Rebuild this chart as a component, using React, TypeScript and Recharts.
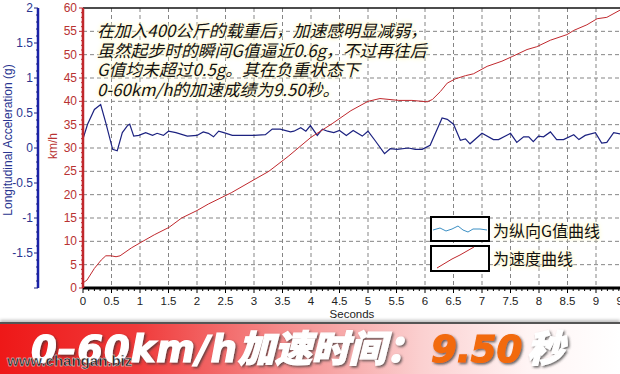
import React from "react";
import { CartesianGrid, ComposedChart, Line, ReferenceLine, XAxis, YAxis } from "recharts";

// speed curve (km/h)
const speedTime = [
  0, 0.07, 0.2, 0.32, 0.4, 0.49, 0.58, 0.65, 0.85, 1.02, 1.25, 1.51, 1.73, 2.0, 2.2, 2.6, 3.0, 3.26,
  3.6, 4.0, 4.37, 4.7, 5.0, 5.21, 5.54, 5.77, 6.04, 6.13, 6.27, 6.39, 6.53, 6.71, 6.85, 7.09, 7.35,
  7.53, 7.79, 7.96, 8.2, 8.49, 8.61, 8.84, 9.02, 9.19, 9.46, 9.5,
];
const speedKmh = [
  1.1, 1.7, 4.2, 6.0, 6.9, 6.9, 6.7, 6.9, 8.6, 9.8, 11.4, 13, 15, 16.6, 18, 20.4, 23.2, 25, 28.2,
  32.3, 35.2, 38, 40, 40.6, 40.2, 40.2, 39.9, 40.4, 42.1, 43.9, 44.8, 45.5, 45.9, 47.5, 48.6, 49.6,
  51.1, 51.7, 53.1, 54.3, 55.2, 56.4, 57.7, 58.0, 59.8, 60,
];

// longitudinal acceleration (g)
const gTime = [
  0, 0.08, 0.2, 0.31, 0.4, 0.52, 0.6, 0.69, 0.78, 0.82, 0.89, 0.98, 1.1, 1.22, 1.3, 1.41, 1.5, 1.63,
  1.83, 2.0, 2.11, 2.2, 2.29, 2.38, 2.47, 2.62, 3.0, 3.2, 3.32, 3.46, 3.64, 3.7, 3.82, 3.91, 3.99,
  4.11, 4.2, 4.29, 4.4, 4.5, 4.62, 4.74, 4.9, 5.0, 5.13, 5.29, 5.39, 5.51, 5.71, 5.83, 5.95, 6.09,
  6.3, 6.39, 6.5, 6.62, 6.71, 6.79, 7.0, 7.2, 7.29, 7.5, 7.61, 7.73, 7.82, 7.9, 7.99, 8.08, 8.2,
  8.31, 8.43, 8.61, 8.7, 8.81, 8.99, 9.1, 9.19, 9.31, 9.43, 9.6,
];
const gValue = [
  0.13, 0.34, 0.55, 0.62, 0.36, -0.02, -0.04, 0.22, 0.32, 0.34, 0.17, 0.18, 0.22, 0.18, 0.21, 0.18,
  0.24, 0.22, 0.17, 0.18, 0.23, 0.21, 0.16, 0.24, 0.22, 0.18, 0.18, 0.19, 0.27, 0.27, 0.23, 0.24,
  0.29, 0.24, 0.32, 0.18, 0.27, 0.24, 0.22, 0.25, 0.18, 0.25, 0.17, 0.24, 0.1, -0.08, -0.01, -0.02,
  0, -0.02, -0.02, 0.04, 0.43, 0.41, 0.34, 0.11, 0.13, 0.06, 0.21, 0.12, 0.12, 0.21, 0.08, 0.16,
  0.16, 0.09, 0.17, 0.16, 0.23, 0.12, 0.12, 0.19, 0.12, 0.18, 0.22, 0.07, 0.08, 0.22, 0.2, 0.2,
];

// axis ticks
const secondTicks = Array.from({ length: 101 }, (_, i) => i / 10);
const secondGrid = Array.from({ length: 19 }, (_, i) => (i + 1) / 2);
const speedTicks = Array.from({ length: 61 }, (_, i) => i);
const speedGrid = [5, 10, 15, 20, 25, 30, 35, 40, 45, 50, 55];
const gTicks = Array.from({ length: 41 }, (_, i) => (i - 20) / 10);

const noteLines = [
  "在加入400公斤的载重后，加速感明显减弱，",
  "虽然起步时的瞬间G值逼近0.6g，不过再往后",
  "G值均未超过0.5g。其在负重状态下",
  "0-60km/h的加速成绩为9.50秒。",
];

const speedData = speedTime.map((t, i) => ({ t, v: speedKmh[i] }));
const gData = gTime.map((t, i) => ({ t, g: gValue[i] }));

const NAVY = "#1c2280";
const RED = "#c0282d";
// axis ids: the speed axis sits next to the plot, the g axis outside it
const SPEED = "a";
const G = "b";

function SecondTick({ x, y, payload }: any) {
  const v = payload.value as number;
  const major = Math.round(v * 10) % 5 === 0;
  return (
    <g>
      <line x1={x} y1={y} x2={x} y2={y + (major ? 5 : 3)} stroke="#000" />
      {major && (
        <text x={x} y={y + 17} textAnchor="middle" fontSize={11.5} fill="#222" fontFamily="Liberation Sans">
          {String(v)}
        </text>
      )}
    </g>
  );
}

function SpeedTick({ x, y, payload }: any) {
  const v = payload.value as number;
  const major = v % 5 === 0;
  return (
    <g>
      <line x1={x - (major ? 4 : 2)} y1={y} x2={x} y2={y} stroke={RED} />
      {major && (
        <text x={x - 6} y={y + 4} textAnchor="end" fontSize={12} fill="#b83232" fontFamily="Liberation Sans">
          {String(v)}
        </text>
      )}
    </g>
  );
}

function GTick({ x, y, payload }: any) {
  const v = payload.value as number;
  const major = Math.round(v * 10) % 5 === 0;
  return (
    <g>
      <line x1={x - (major ? 4 : 2)} y1={y} x2={x} y2={y} stroke={NAVY} />
      {major && v > -2 && (
        <text x={x - 5} y={y + 4} textAnchor="end" fontSize={12} fill="#2a3590" fontFamily="Liberation Sans">
          {String(v)}
        </text>
      )}
    </g>
  );
}

const glow = "0 0 2px #fffbe0, 0 0 3px #fff6c8, 0 0 5px #fff6c8, 0 0 7px #fffae0";

export default function App() {
  return (
    <div
      style={{
        position: "absolute",
        left: 0,
        top: 0,
        width: 620,
        height: 374,
        overflow: "hidden",
        background: "#fff",
        fontFamily: "'Noto Sans CJK SC', sans-serif",
      }}
    >
      <ComposedChart width={653} height={322} margin={{ top: 8, right: 0, bottom: 0, left: 0 }}>
        <CartesianGrid
          yAxisId={SPEED}
          stroke="#858585"
          strokeDasharray="4 3"
          horizontalValues={speedGrid}
          verticalValues={secondGrid}
        />
        <XAxis
          type="number"
          dataKey="t"
          domain={[0, 10]}
          ticks={secondTicks}
          interval={0}
          tick={<SecondTick />}
          tickLine={false}
          tickSize={0}
          tickMargin={0}
          axisLine={{ stroke: "#000", strokeWidth: 3 }}
          height={34}
          allowDataOverflow
        />
        <YAxis
          yAxisId={SPEED}
          type="number"
          domain={[0, 60]}
          ticks={speedTicks}
          interval={0}
          tick={<SpeedTick />}
          tickLine={false}
          tickSize={0}
          tickMargin={0}
          axisLine={{ stroke: RED, strokeWidth: 2.5 }}
          width={45}
          allowDataOverflow
        />
        <YAxis
          yAxisId={G}
          type="number"
          domain={[-2, 2]}
          ticks={gTicks}
          interval={0}
          tick={<GTick />}
          tickLine={false}
          tickSize={0}
          tickMargin={0}
          axisLine={{ stroke: "#1a22a8", strokeWidth: 2.5 }}
          width={38}
          allowDataOverflow
        />
        <ReferenceLine yAxisId={SPEED} y={60} stroke="#111" strokeWidth={1.5} />
        <Line
          data={gData}
          yAxisId={G}
          dataKey="g"
          type="linear"
          stroke={NAVY}
          strokeWidth={1.2}
          dot={false}
          isAnimationActive={false}
        />
        <Line
          data={speedData}
          yAxisId={SPEED}
          dataKey="v"
          type="linear"
          stroke={RED}
          strokeWidth={1}
          dot={false}
          isAnimationActive={false}
        />
      </ComposedChart>

      {/* axis titles */}
      <svg width={620} height={322} style={{ position: "absolute", left: 0, top: 0, pointerEvents: "none" }}>
        <text
          transform="translate(12,140) rotate(-90)"
          textAnchor="middle"
          fontSize={12}
          fill="#2a3590"
          fontFamily="Liberation Sans"
        >
          Longitudinal Acceleration (g)
        </text>
        <text
          transform="translate(57,146) rotate(-90)"
          textAnchor="middle"
          fontSize={12}
          fill="#b83232"
          fontFamily="Liberation Sans"
        >
          km/h
        </text>
        <text x={352} y={318} textAnchor="middle" fontSize={11.5} fill="#222" fontFamily="Liberation Sans">
          Seconds
        </text>

        {/* legend boxes */}
        <rect x={431} y={217} width={58} height={24} fill="#fff" stroke="#000" strokeWidth={2} />
        <polyline
          points="433,230 440,228 446,231 452,229 458,226 463,230 468,232 473,229 480,229 487,230"
          fill="none"
          stroke="#3b8fc4"
          strokeWidth={1}
        />
        <rect x={431} y={246} width={58} height={25} fill="#fff" stroke="#000" strokeWidth={2} />
        <polyline points="437,268 452,259 460,255 474,247" fill="none" stroke={RED} strokeWidth={1} />
      </svg>

      <div style={{ position: "absolute", left: 493, top: 219, fontSize: 16, lineHeight: "22px", color: "#111", textShadow: glow }}>
        为纵向G值曲线
      </div>
      <div style={{ position: "absolute", left: 493, top: 247, fontSize: 16, lineHeight: "22px", color: "#111", textShadow: glow }}>
        为速度曲线
      </div>

      {/* annotation */}
      <div
        style={{
          position: "absolute",
          left: 97,
          top: 21,
          fontSize: 16.8,
          lineHeight: "19.7px",
          fontStyle: "italic",
          color: "#111",
          textShadow: glow,
          whiteSpace: "nowrap",
        }}
      >
        {noteLines.map((l) => (
          <div key={l}>{l}</div>
        ))}
      </div>

      {/* bottom banner */}
      <div
        style={{
          position: "absolute",
          left: 0,
          top: 322,
          width: 620,
          height: 52,
          borderTop: "2px solid #555",
          boxShadow: "0 -2px 3px rgba(0,0,0,0.25)",
          background:
            "linear-gradient(to right, #ee1818 0%, #f03a3a 22%, #f48a8a 45%, #fbd0d0 68%, #fff4f4 85%, #ffffff 100%)",
        }}
      >
        <svg width={620} height={52} style={{ position: "absolute", left: 0, top: -2 }}>
          <defs>
            <filter id="sh" x="-10%" y="-20%" width="120%" height="150%">
              <feDropShadow dx="1.5" dy="1.5" stdDeviation="1.2" floodColor="#333" floodOpacity="0.75" />
            </filter>
          </defs>
          <text
            x={31}
            y={40}
            fontSize={37}
            fontWeight={900}
            fontStyle="italic"
            fill="#fff"
            stroke="#fff"
            strokeWidth={1.2}
            filter="url(#sh)"
          >
            <tspan fontFamily="DejaVu Sans" letterSpacing={1}>0–60km/h</tspan>
            <tspan fontFamily="Noto Sans CJK SC">加速时间：</tspan>
          </text>
          <text
            x={431}
            y={40}
            fontSize={37}
            fontWeight={900}
            fontStyle="italic"
            fill="#f26a10"
            stroke="#f26a10"
            strokeWidth={1.2}
            fontFamily="DejaVu Sans"
            filter="url(#sh)"
          >
            9.50
          </text>
          <text
            x={527}
            y={40}
            fontSize={37}
            fontWeight={900}
            fontStyle="italic"
            fill="#fff"
            stroke="#fff"
            strokeWidth={1.2}
            fontFamily="Noto Sans CJK SC"
            filter="url(#sh)"
          >
            秒
          </text>
          <text
            x={7}
            y={44}
            fontSize={15}
            fontWeight={700}
            fill="#1c1c1c"
            fontFamily="Liberation Sans"
            stroke="#eee"
            strokeWidth={0.4}
          >
            www.changan.biz
          </text>
        </svg>
      </div>
    </div>
  );
}
